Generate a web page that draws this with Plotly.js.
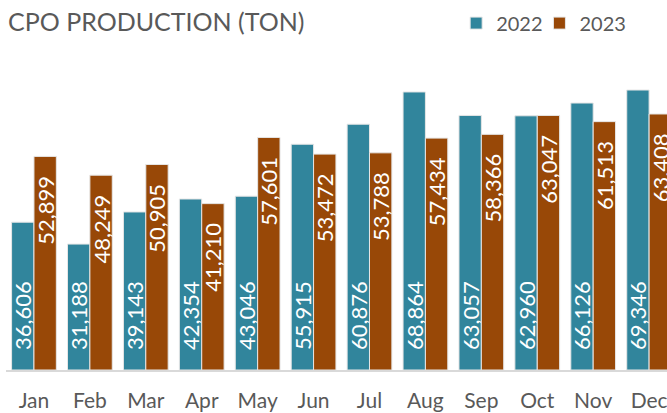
<!DOCTYPE html>
<html><head><meta charset="utf-8">
<script src="https://cdn.plot.ly/plotly-3.0.1.min.js"></script>
<style>html,body{margin:0;padding:0;background:#fff;}#chart{width:667px;height:413px;}</style>
</head><body><div id="chart"></div>
<script>
var months = ["Jan","Feb","Mar","Apr","May","Jun","Jul","Aug","Sep","Oct","Nov","Dec"];
var prod2022 = [36606,31188,39143,42354,43046,55915,60876,68864,63057,62960,66126,69346];
var prod2023 = [52899,48249,50905,41210,57601,53472,53788,57434,58366,63047,61513,63408];
var seriesNames = ["2022","2023"];

function fmt(v){ return v.toLocaleString('en-US'); }
var NB = '\u00a0';
var PADEND = NB + NB + "<span style='color:rgba(0,0,0,0)'>.</span>";
var FONT = "Lato, 'Open Sans', sans-serif";

var t1 = {
  type:'bar', name:seriesNames[0], x:months, y:prod2022, legend:'legend',
  marker:{color:'#31859c', line:{color:'#e6e6e6', width:1}},
  text:prod2022.map(function(v){ return NB+NB+NB+fmt(v); }),
  textposition:'inside', insidetextanchor:'start',
  textangle:-90, constraintext:'none',
  textfont:{family:FONT, size:22, color:'#ffffff'}, hoverinfo:'x+y'
};
var t2 = {
  type:'bar', name:seriesNames[1], x:months, y:prod2023, legend:'legend2',
  marker:{color:'#984807', line:{color:'#e6e6e6', width:1}},
  text:prod2023.map(function(v){ return fmt(v)+PADEND; }),
  textposition:'inside', insidetextanchor:'end',
  textangle:-90, constraintext:'none',
  textfont:{family:FONT, size:22, color:'#ffffff'}, hoverinfo:'x+y'
};

var legendBase = {orientation:'h', xanchor:'left', y:1.074, yanchor:'middle',
  font:{family:FONT, size:20, color:'#595959'}, itemwidth:30, bgcolor:'rgba(0,0,0,0)'};

var layout = {
  width:667, height:413,
  margin:{l:6, r:0, t:47, b:43, pad:0},
  paper_bgcolor:'#ffffff', plot_bgcolor:'#ffffff',
  font:{family:FONT, color:'#595959'},
  title:{text:'CPO PRODUCTION (TON)', xref:'container', yref:'container',
         x:0.012, xanchor:'left', y:0.947, yanchor:'middle',
         font:{family:FONT, size:25, color:'#595959'}},
  barmode:'group', bargap:0.2, bargroupgap:0,
  xaxis:{type:'category', range:[-0.5, 11.32], showgrid:false, zeroline:false,
         showline:true, linecolor:'#d9d9d9', linewidth:2, ticks:'',
         tickfont:{family:FONT, size:21, color:'#595959'}, ticklabelstandoff:11},
  yaxis:{range:[0,80000], visible:false, showgrid:false, zeroline:false},
  showlegend:true,
  legend:Object.assign({}, legendBase, {x:0.681}),
  legend2:Object.assign({}, legendBase, {x:0.807})
};

Plotly.newPlot('chart', [t1,t2], layout, {displayModeBar:false, staticPlot:true});
</script></body></html>
